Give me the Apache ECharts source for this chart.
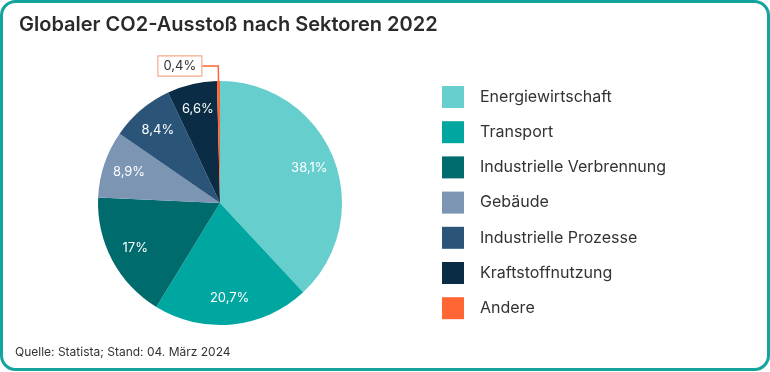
<!DOCTYPE html>
<html>
<head>
<meta charset="utf-8">
<script src="https://cdn.jsdelivr.net/npm/echarts@6/dist/echarts.min.js"></script>
<style>
html,body{margin:0;padding:0;background:#fff;}
#c{width:770px;height:372px;}
</style>
</head>
<body>
<div id="c"></div>
<script>
const categories = ['Energiewirtschaft','Transport','Industrielle Verbrennung','Gebäude','Industrielle Prozesse','Kraftstoffnutzung','Andere'];
const values = [38.1, 20.7, 17, 8.9, 8.4, 6.6, 0.4];
const colors = ['#66cfcd','#00a6a0','#006b6c','#7b95b3','#2a5579','#0b2c45','#ff6633'];
const titleText = 'Globaler CO2-Ausstoß nach Sektoren 2022';
const sourceText = 'Quelle: Statista; Stand: 04. März 2024';

const fmt = v => String(v).replace('.', ',') + '%';
const FONT = 'Inter, "Noto Sans", sans-serif';

const mainData = categories.map((n, i) => {
  const d = { name: n, value: values[i], itemStyle: { color: colors[i] } };
  if (n === 'Andere') {
    d.label = {
      show: true, position: 'outside', formatter: fmt(values[i]),
      color: '#333', fontSize: 13, fontFamily: FONT,
      backgroundColor: '#fff', borderColor: '#f5a98f', borderWidth: 1.2,
      padding: [4, 5, 2, 5], distanceToLabelLine: 0
    };
    d.labelLine = { show: true, length: 15, length2: 17, lineStyle: { color: '#ff6633', width: 1.5 } };
  }
  return d;
});
const labelData = categories.map((n, i) => ({
  name: n, value: values[i],
  label: { show: n !== 'Andere' }
}));

const chart = echarts.init(document.getElementById('c'), null, { renderer: 'canvas' });
chart.setOption({
  animation: false,
  title: {
    text: titleText, left: 14, top: 10,
    textStyle: { fontFamily: FONT, fontSize: 20, fontWeight: 600, color: '#2b2b2b' }
  },
  graphic: [
    { type: 'rect', shape: { x: 1.5, y: 1.5, width: 767, height: 368, r: 14 },
      style: { fill: 'none', stroke: '#13a59d', lineWidth: 3 }, z: 100 },
    { type: 'text', left: 15, top: 346,
      style: { text: sourceText, fill: '#333', font: '12px Inter, "Noto Sans", sans-serif' } }
  ],
  legend: {
    orient: 'vertical', left: 437, top: 81,
    itemWidth: 22, itemHeight: 22, itemGap: 13.2,
    icon: 'rect',
    data: categories,
    textStyle: { fontFamily: FONT, fontSize: 16, color: '#333', padding: [0, 0, 0, 11] }
  },
  series: [
    {
      type: 'pie', radius: [0, 122], center: [220, 203],
      startAngle: 90, clockwise: true, silent: true,
      label: { show: false },
      labelLine: { show: false },
      data: mainData
    },
    {
      type: 'pie', radius: [64, 122], center: [220, 203],
      startAngle: 90, clockwise: true, silent: true,
      itemStyle: { color: 'rgba(0,0,0,0)' },
      label: { show: true, position: 'inside', color: '#fff', fontSize: 13, fontFamily: FONT,
        formatter: p => fmt(p.value) },
      labelLine: { show: false },
      data: labelData
    }
  ]
});
</script>
</body>
</html>
